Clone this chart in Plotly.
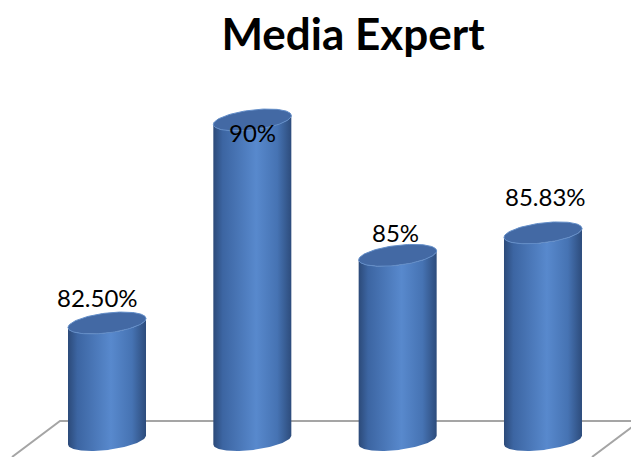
import numpy as np
import plotly.graph_objects as go

# ---- data ----
categories = ["1", "2", "3", "4"]
values = [82.50, 90.0, 85.0, 85.83]
labels = ["82.50%", "90%", "85%", "85.83%"]
title_text = "Media Expert"

# ---- styling / geometry (axis units) ----
W, H = 631, 457
PX_X = 145.33          # px per category step
PX_Y = 27.07           # px per value unit
X0 = -107 / PX_X
X_RANGE = [X0, X0 + W / PX_X]
Y_TOP = 82.5 + 323 / PX_Y
Y_RANGE = [Y_TOP - H / PX_Y, Y_TOP]
BASE = 82.5 - 117 / PX_Y      # axis floor value
A = 39 / PX_X                 # cylinder half width
B = 10 / PX_Y                 # ellipse half height
S = 0.115 * PX_X / PX_Y       # perspective tilt

label_xshift = [-10, 0, -2, 3]
label_yshift = [26, -13, 23, 36]

def px2x(p):
    return X0 + p / PX_X

def py2y(p):
    return Y_TOP - p / PX_Y

def ellipse(cx, cy, th):
    return cx + A * np.cos(th), cy + B * np.sin(th) + S * A * np.cos(th)

fig = go.Figure()

# floor (back edge + side edges)
floor_col = "#a5a5a5"
fig.add_trace(go.Scatter(
    x=[px2x(12), px2x(60), px2x(640), px2x(592)],
    y=[py2y(457), py2y(421), py2y(421), py2y(457)],
    mode="lines", line=dict(color=floor_col, width=2),
    hoverinfo="skip", showlegend=False))

body_scale = [[0, "#2c4a79"], [0.12, "#3c65a2"], [0.55, "#5889cd"],
              [0.82, "#4673b3"], [1, "#2d4c7c"]]

for i, v in enumerate(values):
    cx = i
    th1 = np.linspace(np.pi, 2 * np.pi, 60)
    bx, by = ellipse(cx, BASE, th1)
    tx, ty = ellipse(cx, v, th1[::-1])
    xs = np.concatenate([bx, tx, bx[:1]])
    ys = np.concatenate([by, ty, by[:1]])
    fig.add_trace(go.Scatter(
        x=xs, y=ys, mode="lines", fill="toself",
        line=dict(width=0, color="rgba(0,0,0,0)"),
        fillgradient=dict(type="horizontal", colorscale=body_scale),
        hoverinfo="skip", showlegend=False))
    th = np.linspace(0, 2 * np.pi, 120)
    ex, ey = ellipse(cx, v, th)
    fig.add_trace(go.Scatter(
        x=ex, y=ey, mode="lines", fill="toself",
        fillcolor="#4369a4",
        line=dict(width=1, color="#628dc8"),
        hoverinfo="skip", showlegend=False))
    fig.add_annotation(
        x=cx, y=v, text=labels[i], showarrow=False,
        xshift=label_xshift[i], yshift=label_yshift[i],
        font=dict(family="Lato", size=24, color="#000000"))

fig.update_layout(
    width=W, height=H,
    margin=dict(l=0, r=0, t=0, b=0),
    paper_bgcolor="white", plot_bgcolor="white",
    title=dict(text="<b>" + title_text + "</b>", x=353 / W, xanchor="center",
               y=1 - 35 / H, yanchor="middle",
               font=dict(family="Lato", size=44, color="#000000")),
    xaxis=dict(range=X_RANGE, visible=False, showgrid=False, zeroline=False),
    yaxis=dict(range=Y_RANGE, visible=False, showgrid=False, zeroline=False),
)

fig.write_html("out.html")
